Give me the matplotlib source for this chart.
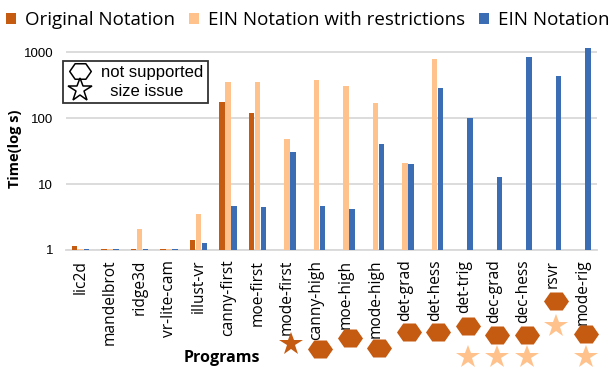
import numpy as np
import matplotlib
matplotlib.use("Agg")
import matplotlib.pyplot as plt
from matplotlib.path import Path
from matplotlib.lines import Line2D
from matplotlib.patches import Patch
import matplotlib.transforms as mtransforms

categories = ["lic2d", "mandelbrot", "ridge3d", "vr-lite-cam", "illust-vr",
              "canny-first", "moe-first", "mode-first", "canny-high", "moe-high",
              "mode-high", "det-grad", "det-hess", "det-trig", "dec-grad",
              "dec-hess", "rsvr", "mode-rig"]
original = [1.15, 1.02, 1.02, 1.02, 1.42, 176, 120, None, None, None,
            None, None, None, None, None, None, None, None]
ein_restr = [1.02, 1.02, 2.1, 1.02, 3.55, 355, 355, 48, 376, 301,
             166, 21.1, 791, None, None, None, None, None]
ein = [1.02, 1.02, 1.02, 1.02, 1.28, 4.7, 4.45, 31, 4.7, 4.19,
       40.6, 20, 284, 100.7, 12.9, 840, 437, 1162]
series_names = ["Original Notation", "EIN Notation with restrictions", "EIN Notation"]

# issue markers: (category, kind, which colour, vertical pixel position)
issues_cat = ["mode-first", "canny-high", "moe-high", "mode-high", "det-grad", "det-hess",
              "det-trig", "det-trig", "dec-grad", "dec-grad", "dec-hess", "dec-hess",
              "rsvr", "rsvr", "mode-rig", "mode-rig"]
issues_kind = ["star", "hex", "hex", "hex", "hex", "hex",
               "hex", "star", "hex", "star", "hex", "star",
               "hex", "star", "hex", "star"]
issues_light = [False, False, False, False, False, False,
                False, True, False, True, False, True,
                False, True, False, True]
issues_ypx = [344, 349, 338, 348, 332, 332, 326, 357, 335, 357, 335, 357, 301, 326, 334, 357]

C_ORIG = "#C55A11"
C_RESTR = "#FFC28C"
C_EIN = "#3B6DB4"
colors = [C_ORIG, C_RESTR, C_EIN]

W, H = 609, 372
fig = plt.figure(figsize=(W / 100, H / 100), dpi=100)
ax = fig.add_axes([65.7 / W, 1 - 250 / H, (597 - 65.7) / W, (250 - 46.8) / H])
ax.set_yscale("log")

x = np.arange(len(categories))
bw = 0.18
offsets = [-0.2, 0.0, 0.2]
handles = []
for vals, off, col, name in zip([original, ein_restr, ein], offsets, colors, series_names):
    xs = [xi + off for xi, v in zip(x, vals) if v is not None]
    hs = [v - 1 for v in vals if v is not None]
    ax.bar(xs, hs, bottom=1, width=bw, color=col, linewidth=0, zorder=3)
    handles.append(Patch(facecolor=col, edgecolor="none", label=name))

ax.set_xlim(-0.5, len(categories) - 0.5)
ax.set_ylim(1, 1200)
ax.set_yticks([1, 10, 100, 1000])
ax.set_yticklabels(["1", "10", "100", "1000"], fontfamily="Liberation Sans", fontsize=9.5)
ax.yaxis.set_minor_locator(matplotlib.ticker.NullLocator())
ax.grid(axis="y", color="#D9D9D9", linewidth=1.3, zorder=0)
for s in ["top", "right", "left"]:
    ax.spines[s].set_visible(False)
ax.spines["bottom"].set_color("#D9D9D9")
ax.spines["bottom"].set_linewidth(1.3)
ax.tick_params(axis="y", length=0, pad=9)
ax.tick_params(axis="x", length=0, pad=7)
ax.set_xticks(x)
ax.set_xticklabels(categories, rotation=90, fontfamily="Open Sans", fontsize=11.2,
                   va="top", ha="center")

ax.set_ylabel("Time(log s)", fontfamily="Open Sans", fontweight="bold", fontsize=10.5)
ax.yaxis.set_label_coords(-0.095, 0.5)
ax.yaxis.label.set_va("center")
ax.set_xlabel("Programs", fontfamily="Open Sans", fontweight="bold", fontsize=11.5)
ax.xaxis.set_label_coords(0.294, -0.53)
ax.xaxis.label.set_va("center")

# hexagon marker path (flat top/bottom)
hverts = [(-0.5, 0), (-0.25, 0.36), (0.25, 0.36), (0.5, 0), (0.25, -0.36), (-0.25, -0.36), (-0.5, 0)]
hexpath = Path(hverts, [Path.MOVETO] + [Path.LINETO] * 5 + [Path.CLOSEPOLY])

trans = mtransforms.blended_transform_factory(ax.transData, fig.transFigure)
for cat, kind, light, ypx in zip(issues_cat, issues_kind, issues_light, issues_ypx):
    xi = categories.index(cat) + 0.12
    col = C_RESTR if light else C_ORIG
    if kind == "hex":
        ax.plot([xi], [1 - ypx / H], marker=hexpath, markersize=18, color=col,
                markeredgewidth=0, linestyle="none", transform=trans, clip_on=False, zorder=5)
    else:
        ax.plot([xi], [1 - ypx / H], marker="*", markersize=17.5, color=col,
                markeredgewidth=0, linestyle="none", transform=trans, clip_on=False, zorder=5)

# top legend
leg1 = fig.legend(handles=handles, loc="center", bbox_to_anchor=(0.505, 1 - 20 / H), ncol=3,
                  frameon=False, prop={"family": "Open Sans", "size": 13.5},
                  handlelength=0.55, handleheight=0.55, handletextpad=0.45,
                  columnspacing=0.75, borderaxespad=0)

# issue legend box
ih = [Line2D([], [], marker=hexpath, markersize=15.5, markerfacecolor="white",
             markeredgecolor="black", markeredgewidth=1.1, linestyle="none"),
      Line2D([], [], marker="*", markersize=17.5, markerfacecolor="white",
             markeredgecolor="black", markeredgewidth=1.1, linestyle="none")]
leg2 = ax.legend(handles=ih, labels=["not supported", "  size issue"],
                 loc="upper left", bbox_to_anchor=(63 / W, 1 - 61 / H),
                 bbox_transform=fig.transFigure, frameon=True, fancybox=False,
                 prop={"family": "Liberation Sans", "size": 12},
                 handlelength=1.5, handletextpad=0.55, labelspacing=0.2,
                 borderpad=0.25, borderaxespad=0)
leg2.get_frame().set_edgecolor("black")
leg2.get_frame().set_linewidth(1.3)
leg2.set_zorder(6)

fig.savefig("out.png", dpi=100)
